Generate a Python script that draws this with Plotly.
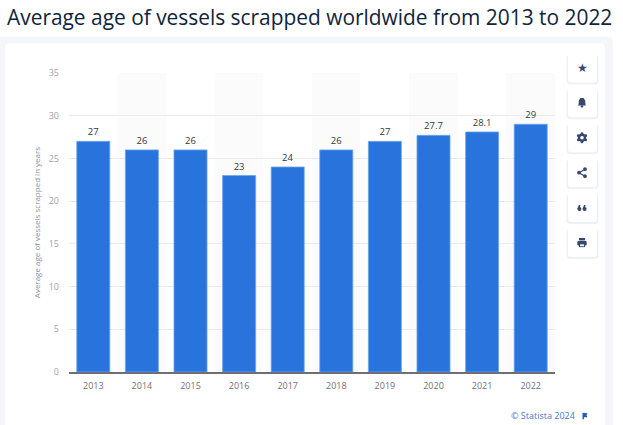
import plotly.graph_objects as go

W, H = 623, 425
LEFT, RIGHT, TOP, BOTTOM = 69, 555, 72.5, 372.5

years = ['2013', '2014', '2015', '2016', '2017', '2018', '2019', '2020', '2021', '2022']
ages = [27, 26, 26, 23, 24, 26, 27, 27.7, 28.1, 29]
age_labels = ['27', '26', '26', '23', '24', '26', '27', '27.7', '28.1', '29']
y_ticks = [0, 5, 10, 15, 20, 25, 30, 35]

title_text = 'Average age of vessels scrapped worldwide from 2013 to 2022'
y_title = 'Average age of vessels scrapped in years'
credit = '© Statista 2024'

ICON = '#36486b'


def px(x):
    return (x - LEFT) / (RIGHT - LEFT)


def py(y):
    return (BOTTOM - y) / (BOTTOM - TOP)


def pt(x, y):
    return f'{px(x):.4f},{py(y):.4f}'


def poly(points):
    return 'M ' + ' L '.join(pt(a, b) for a, b in points) + ' Z'


def rounded(x0, y0, x1, y1, r):
    return (f'M {pt(x0 + r, y0)} L {pt(x1 - r, y0)} Q {pt(x1, y0)} {pt(x1, y0 + r)} '
            f'L {pt(x1, y1 - r)} Q {pt(x1, y1)} {pt(x1 - r, y1)} '
            f'L {pt(x0 + r, y1)} Q {pt(x0, y1)} {pt(x0, y1 - r)} '
            f'L {pt(x0, y0 + r)} Q {pt(x0, y0)} {pt(x0 + r, y0)} Z')


def fill_path(path, color):
    return dict(type='path', xref='paper', yref='paper', path=path, fillcolor=color,
                line=dict(width=0), layer='below')


def dot(cx, cy, r, color=ICON):
    return dict(type='circle', xref='paper', yref='paper', x0=px(cx - r), x1=px(cx + r),
                y0=py(cy + r), y1=py(cy - r), fillcolor=color, line=dict(width=0), layer='below')


def seg(x0, y0, x1, y1, width=1.2):
    return dict(type='line', xref='paper', yref='paper', x0=px(x0), x1=px(x1), y0=py(y0), y1=py(y1),
                line=dict(color=ICON, width=width), layer='below')


shapes = []
# page background and card
shapes.append(fill_path(rounded(-4, 36, 613, H + 20, 6), '#f5f6fa'))
shapes.append(fill_path(rounded(5, 43, 605, H + 20, 4), '#ffffff'))

# alternating column bands
for i in range(1, len(years), 2):
    shapes.append(dict(type='rect', xref='x', yref='paper', x0=i - 0.5, x1=i + 0.5, y0=0, y1=1,
                       fillcolor='#fbfbfc', line=dict(width=0), layer='below'))

# toolbar buttons
tops = [53, 88, 123, 158, 193, 228]
for top in tops:
    shapes.append(fill_path(rounded(566.5, top + 1, 598.5, top + 31, 4), '#eef0f5'))
    shapes.append(fill_path(rounded(568, top, 597, top + 29, 3), '#ffffff'))

cx = 582
# bell
cy = tops[1] + 14
shapes.append(fill_path(poly([(cx - 1.5, cy - 4.5), (cx + 1.5, cy - 4.5), (cx + 3.2, cy - 2), (cx + 3.4, cy + 2),
                              (cx + 4.2, cy + 3), (cx - 4.2, cy + 3), (cx - 3.4, cy + 2), (cx - 3.2, cy - 2)]), ICON))
shapes.append(dot(cx, cy + 4, 1.2))
# gear
cy = tops[2] + 14.5
for dx, dy in [(0, -4.2), (0, 4.2), (-3.7, -2.1), (3.7, -2.1), (-3.7, 2.1), (3.7, 2.1)]:
    shapes.append(dot(cx + dx, cy + dy, 1.4))
shapes.append(dot(cx, cy, 4.1))
shapes.append(dot(cx, cy, 1.8, '#ffffff'))
# share
cy = tops[3] + 14.5
shapes.append(seg(cx + 3, cy - 3.5, cx - 3, cy))
shapes.append(seg(cx + 3, cy + 3.5, cx - 3, cy))
shapes.append(dot(cx + 3, cy - 3.5, 1.9))
shapes.append(dot(cx + 3, cy + 3.5, 1.9))
shapes.append(dot(cx - 3, cy, 1.9))
# quotes
cy = tops[4] + 15
for dx in [-2.6, 2.6]:
    shapes.append(dot(cx + dx, cy + 1, 2))
    shapes.append(fill_path(poly([(cx + dx - 2, cy + 1), (cx + dx - 0.6, cy - 3), (cx + dx + 1, cy - 3),
                                  (cx + dx, cy + 1)]), ICON))
# printer
cy = tops[5] + 14.5
shapes.append(fill_path(poly([(cx - 3, cy - 4.5), (cx + 3, cy - 4.5), (cx + 3, cy - 2), (cx - 3, cy - 2)]), ICON))
shapes.append(fill_path(rounded(cx - 4.7, cy - 1.5, cx + 4.7, cy + 3, 1), ICON))
shapes.append(fill_path(poly([(cx - 3, cy + 1), (cx + 3, cy + 1), (cx + 3, cy + 4.7), (cx - 3, cy + 4.7)]), ICON))
shapes.append(fill_path(poly([(cx - 2, cy + 2), (cx + 2, cy + 2), (cx + 2, cy + 3.8), (cx - 2, cy + 3.8)]), '#ffffff'))
# statista flag
shapes.append(fill_path(poly([(582.5, 413.5), (587.5, 414), (586.5, 416), (587.5, 418), (584, 418),
                              (584, 420), (582.5, 420)]), '#1f5fc4'))

annotations = [
    dict(text='★', xref='paper', yref='paper', x=px(cx), y=py(tops[0] + 14.5), xanchor='center',
         yanchor='middle', showarrow=False, font=dict(size=12, color=ICON, family='DejaVu Sans')),
    dict(text=title_text, xref='paper', yref='paper', x=px(5), y=py(16), xanchor='left',
         yanchor='middle', showarrow=False,
         font=dict(size=20.9, color='#10253c', family='Open Sans', weight=500)),
    dict(text=credit, xref='paper', yref='paper', x=px(577), y=py(416.5), xanchor='right',
         yanchor='middle', showarrow=False,
         font=dict(size=9, color='#4a78c8', family='Open Sans')),
]

fig = go.Figure(go.Bar(
    x=years,
    y=ages,
    text=age_labels,
    textposition='outside',
    cliponaxis=False,
    textfont=dict(size=9.5, color='#33363d', family='Open Sans', weight=500),
    marker=dict(color='#2874dc', line=dict(color='#6fa6ec', width=0.8)),
    width=0.68,
    hoverinfo='x+y',
))

fig.update_layout(
    width=W,
    height=H,
    margin=dict(l=LEFT, r=W - RIGHT, t=TOP, b=H - BOTTOM, autoexpand=False),
    paper_bgcolor='#ffffff',
    plot_bgcolor='rgba(0,0,0,0)',
    showlegend=False,
    shapes=shapes,
    annotations=annotations,
)
fig.update_xaxes(type='category', showgrid=False, showline=True, linecolor='#6d6f75', linewidth=1.5,
                 ticks='', ticklabelstandoff=4, tickfont=dict(size=9, color='#6f7177', family='Open Sans'))
fig.update_yaxes(range=[0, 35], tickvals=y_ticks, showgrid=True, gridcolor='#ebebed', gridwidth=1,
                 zeroline=False, ticks='', ticklen=0, ticklabelstandoff=9,
                 tickfont=dict(size=9, color='#a3a5aa', family='Open Sans'),
                 title=dict(text=y_title, standoff=6, font=dict(size=8, color='#8c8e94', family='Open Sans')))

# browser default body margin would push the figure 8px in
fig.write_html('out.html', config=dict(displayModeBar=False),
               post_script="document.body.style.margin='0';document.body.style.overflow='hidden';")
